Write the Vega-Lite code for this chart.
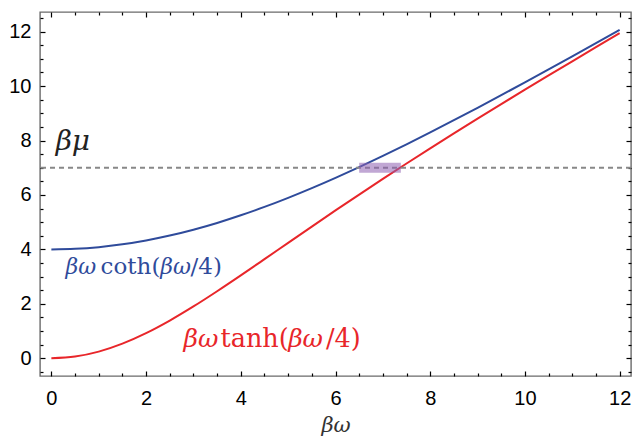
{
  "$schema": "https://vega.github.io/schema/vega-lite/v6.json",
  "width": 591,
  "height": 364,
  "autosize": "none",
  "padding": {"left": 40, "top": 12, "right": 7, "bottom": 64},
  "background": "white",
  "config": {
    "view": {"stroke": "#6b6b6b", "strokeWidth": 1.4},
    "axis": {"grid": false, "domain": false, "tickColor": "#000000", "tickWidth": 1.2}
  },
  "datasets": {
    "coth": [
      {"x": 0, "y": 4.0}, {"x": 0.5, "y": 4.0208}, {"x": 1, "y": 4.083}, {"x": 1.5, "y": 4.1858},
      {"x": 2, "y": 4.3279}, {"x": 2.5, "y": 4.5078}, {"x": 3, "y": 4.7233}, {"x": 3.5, "y": 4.9713},
      {"x": 4, "y": 5.2522}, {"x": 4.5, "y": 5.5603}, {"x": 5, "y": 5.8943}, {"x": 5.5, "y": 6.251},
      {"x": 6, "y": 6.6287}, {"x": 6.5, "y": 7.0244}, {"x": 7, "y": 7.436}, {"x": 7.5, "y": 7.8613},
      {"x": 8, "y": 8.2985}, {"x": 8.5, "y": 8.746}, {"x": 9, "y": 9.2022}, {"x": 9.5, "y": 9.6658},
      {"x": 10, "y": 10.1357}, {"x": 10.5, "y": 10.6108}, {"x": 11, "y": 11.0908}, {"x": 11.5, "y": 11.5734},
      {"x": 12, "y": 12.0596}
    ],
    "tanh": [
      {"x": 0, "y": 0}, {"x": 0.5, "y": 0.0622}, {"x": 1, "y": 0.2449}, {"x": 1.5, "y": 0.5375},
      {"x": 2, "y": 0.9242}, {"x": 2.5, "y": 1.3865}, {"x": 3, "y": 1.9054}, {"x": 3.5, "y": 2.4641},
      {"x": 4, "y": 3.0464}, {"x": 4.5, "y": 3.6419}, {"x": 5, "y": 4.2414}, {"x": 5.5, "y": 4.8393},
      {"x": 6, "y": 5.4309}, {"x": 6.5, "y": 6.0147}, {"x": 7, "y": 6.5896}, {"x": 7.5, "y": 7.1553},
      {"x": 8, "y": 7.7122}, {"x": 8.5, "y": 8.2609}, {"x": 9, "y": 8.8022}, {"x": 9.5, "y": 9.337},
      {"x": 10, "y": 9.8661}, {"x": 10.5, "y": 10.3904}, {"x": 11, "y": 10.91}, {"x": 11.5, "y": 11.427},
      {"x": 12, "y": 11.9407}
    ]
  },
  "resolve": {"axis": {"x": "independent", "y": "independent"}},
  "layer": [
    {
      "data": {"name": "coth"},
      "mark": {"type": "line", "color": "#2f4b9b", "strokeWidth": 2, "interpolate": "monotone"},
      "encoding": {
        "x": {"field": "x", "type": "quantitative", "scale": {"domain": [-0.24, 12.24], "nice": false, "zero": false},
              "axis": {"orient": "bottom", "values": [0, 2, 4, 6, 8, 10, 12], "tickSize": -5, "labelPadding": 17, "labelFont": "Liberation Sans", "labelFontSize": 20, "labelColor": "#000000", "title": "βω", "titleFont": "DejaVu Serif", "titleFontStyle": "italic", "titleFontWeight": "normal", "titleFontSize": 21, "titleColor": "#333333", "titlePadding": 6}},
        "y": {"field": "y", "type": "quantitative", "scale": {"domain": [-0.65, 12.72], "nice": false, "zero": false},
              "axis": {"orient": "left", "values": [0, 2, 4, 6, 8, 10, 12], "tickSize": -5, "labelPadding": 14, "labelFont": "Liberation Sans", "labelFontSize": 20, "labelColor": "#000000", "title": null}}
      }
    },
    {
      "data": {"name": "tanh"},
      "mark": {"type": "line", "color": "#e8262a", "strokeWidth": 2, "interpolate": "monotone"},
      "encoding": {
        "x": {"field": "x", "type": "quantitative",
              "axis": {"orient": "bottom", "values": [0.5, 1, 1.5, 2.5, 3, 3.5, 4.5, 5, 5.5, 6.5, 7, 7.5, 8.5, 9, 9.5, 10.5, 11, 11.5], "tickSize": -3, "labels": false, "title": null}},
        "y": {"field": "y", "type": "quantitative",
              "axis": {"orient": "left", "values": [-0.5, 0.5, 1, 1.5, 2.5, 3, 3.5, 4.5, 5, 5.5, 6.5, 7, 7.5, 8.5, 9, 9.5, 10.5, 11, 11.5, 12.5], "tickSize": -3, "labels": false, "title": null}}
      }
    },
    {
      "data": {"values": [{"mu": 7}]},
      "mark": {"type": "rule", "color": "#888888", "strokeWidth": 2, "strokeDash": [5, 4]},
      "encoding": {
        "y": {"field": "mu", "type": "quantitative",
              "axis": {"orient": "right", "values": [0, 2, 4, 6, 8, 10, 12], "tickSize": -5, "labels": false, "title": null}}
      }
    },
    {
      "data": {"values": [{"x1": 6.5, "x2": 7.38, "y1": 6.82, "y2": 7.18}]},
      "mark": {"type": "rect", "color": "#8e5fb0", "opacity": 0.55},
      "encoding": {
        "x": {"field": "x1", "type": "quantitative",
              "axis": {"orient": "top", "values": [0, 2, 4, 6, 8, 10, 12], "tickSize": -5, "labels": false, "title": null}},
        "x2": {"field": "x2"},
        "y": {"field": "y1", "type": "quantitative",
              "axis": {"orient": "right", "values": [-0.5, 0.5, 1, 1.5, 2.5, 3, 3.5, 4.5, 5, 5.5, 6.5, 7, 7.5, 8.5, 9, 9.5, 10.5, 11, 11.5, 12.5], "tickSize": -3, "labels": false, "title": null}},
        "y2": {"field": "y2"}
      }
    },
    {
      "data": {"values": [{"x": 0}]},
      "mark": {"type": "rule", "opacity": 0},
      "encoding": {
        "x": {"field": "x", "type": "quantitative",
              "axis": {"orient": "top", "values": [0.5, 1, 1.5, 2.5, 3, 3.5, 4.5, 5, 5.5, 6.5, 7, 7.5, 8.5, 9, 9.5, 10.5, 11, 11.5], "tickSize": -3, "labels": false, "title": null}}
      }
    },
    {
      "data": {"values": [
        {"x": 0.3, "y": 3.1, "t": "βω"},
        {"x": 2.3, "y": 3.1, "t": "βω"}
      ]},
      "mark": {"type": "text", "align": "left", "baseline": "alphabetic", "font": "DejaVu Serif", "fontStyle": "italic", "fontSize": 22, "color": "#2f4b9b"},
      "encoding": {
        "x": {"field": "x", "type": "quantitative", "axis": null},
        "y": {"field": "y", "type": "quantitative", "axis": null},
        "text": {"field": "t"}
      }
    },
    {
      "data": {"values": [
        {"x": 1.04, "y": 3.1, "t": "coth("},
        {"x": 2.94, "y": 3.1, "t": "/4)"}
      ]},
      "mark": {"type": "text", "align": "left", "baseline": "alphabetic", "font": "DejaVu Serif", "fontSize": 23, "color": "#2f4b9b"},
      "encoding": {
        "x": {"field": "x", "type": "quantitative", "axis": null},
        "y": {"field": "y", "type": "quantitative", "axis": null},
        "text": {"field": "t"}
      }
    },
    {
      "data": {"values": [
        {"x": 2.79, "y": 0.415, "t": "βω"},
        {"x": 5.0, "y": 0.415, "t": "βω"}
      ]},
      "mark": {"type": "text", "align": "left", "baseline": "alphabetic", "font": "DejaVu Serif", "fontStyle": "italic", "fontSize": 25, "color": "#e8262a"},
      "encoding": {
        "x": {"field": "x", "type": "quantitative", "axis": null},
        "y": {"field": "y", "type": "quantitative", "axis": null},
        "text": {"field": "t"}
      }
    },
    {
      "data": {"values": [
        {"x": 3.57, "y": 0.415, "t": "tanh("},
        {"x": 5.8, "y": 0.415, "t": "/4)"}
      ]},
      "mark": {"type": "text", "align": "left", "baseline": "alphabetic", "font": "DejaVu Serif", "fontSize": 25.5, "color": "#e8262a"},
      "encoding": {
        "x": {"field": "x", "type": "quantitative", "axis": null},
        "y": {"field": "y", "type": "quantitative", "axis": null},
        "text": {"field": "t"}
      }
    },
    {
      "data": {"values": [{"x": 0.09, "y": 7.65, "t": "βμ"}]},
      "mark": {"type": "text", "align": "left", "baseline": "alphabetic", "font": "DejaVu Serif", "fontStyle": "italic", "fontSize": 28, "color": "#222222"},
      "encoding": {
        "x": {"field": "x", "type": "quantitative", "axis": null},
        "y": {"field": "y", "type": "quantitative", "axis": null},
        "text": {"field": "t"}
      }
    }
  ]
}
